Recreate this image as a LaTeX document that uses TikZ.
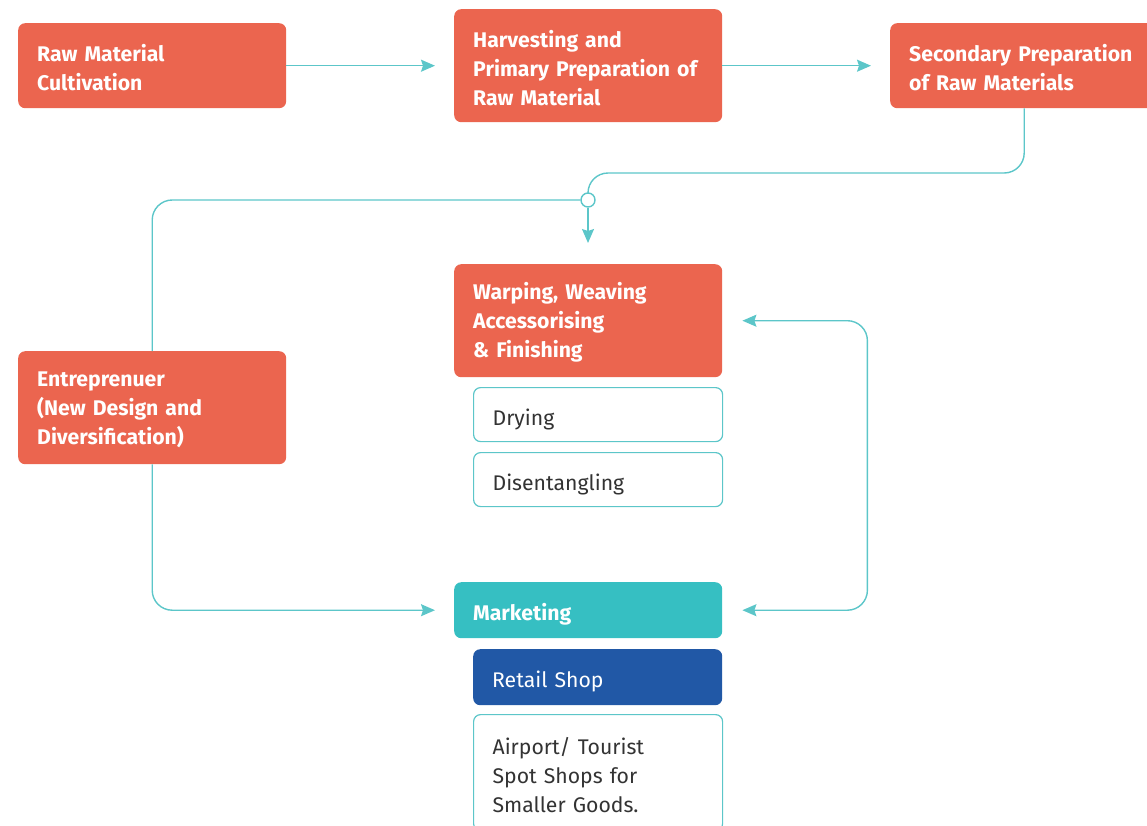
\documentclass[tikz,border=0pt]{standalone}
\usepackage{fontspec}
\setmainfont{Fira Sans}
\usetikzlibrary{arrows.meta,calc}
\definecolor{corange}{HTML}{EB654F}
\definecolor{cteal}{HTML}{36BFC2}
\definecolor{cline}{HTML}{5CC6C9}
\definecolor{cblue}{HTML}{2158A6}
\definecolor{ctext}{HTML}{333333}
\tikzset{
  lower/.style={execute at end node={\vspace*{-#1}}},
  box/.style={rectangle, rounded corners=7pt, anchor=north west, inner xsep=19pt, inner ysep=0pt,
    align=left, font=\fontsize{21.2}{29}\selectfont, lower=4pt},
  oneline/.style={lower=0pt, text height=21pt, text depth=0pt},
  mainbox/.style={box, fill=corange, text=white, font=\fontsize{21.2}{29}\selectfont\bfseries, text width=230pt, minimum width=268pt},
  subbox/.style={box, draw=cline, line width=1.2pt, fill=white, text=ctext, text width=211pt, minimum width=249pt},
  conn/.style={draw=cline, line width=1.4pt},
  arr/.style={conn, -{Stealth[length=14pt,width=12pt,inset=2pt]}},
}
\begin{document}
\begin{tikzpicture}[x=1pt,y=-1pt]
\useasboundingbox (0,0) rectangle (1147,825);
\node[mainbox, minimum height=85pt] (raw) at (18,23) {Raw Material\\Cultivation};
\node[mainbox, minimum height=113pt] (harv) at (454,9) {Harvesting and\\Primary Preparation of\\Raw Material};
\node[mainbox, minimum height=85pt] (sec) at (890,23) {Secondary Preparation\\of Raw Materials};
\node[mainbox, minimum height=113pt] (warp) at (454,264) {Warping, Weaving\\Accessorising\\\& Finishing};
\node[subbox, minimum height=54pt, oneline] (dry) at (473,387) {Drying};
\node[subbox, minimum height=54pt, oneline] (dis) at (473,452) {Disentangling};
\node[mainbox, minimum height=113pt] (ent) at (18,351) {Entreprenuer\\(New Design and\\Diversification)};
\node[mainbox, fill=cteal, minimum height=56pt, oneline] (mkt) at (454,582) {Marketing};
\node[box, fill=cblue, text=white, text width=211pt, minimum width=249pt, minimum height=56pt, oneline] (retail) at (473,649) {Retail Shop};
\node[subbox, minimum height=116pt, anchor=north west] (air) at (473,714) {Airport/ Tourist\\Spot Shops for\\Smaller Goods.};
\node[circle, draw=cline, line width=1.4pt, fill=white, minimum size=14pt, inner sep=0pt] (junc) at (588,200) {};

\draw[arr, shorten >=19pt] (raw.east) -- (raw.east -| harv.west);
\draw[arr, shorten >=19pt] (harv.east |- sec.west) -- (sec.west);
\draw[conn, rounded corners=20pt] (sec.south) -- (sec.south |- 0,173) -- (junc.north |- 0,173) -- (junc.north);
\draw[arr, shorten >=21pt] (junc.south) -- (junc.south |- warp.north);
\draw[conn, rounded corners=20pt] (ent.north) |- (junc.west);
\draw[arr, shorten >=19pt, rounded corners=20pt] (ent.south) |- (mkt.west);
\draw[conn, {Stealth[length=14pt,width=12pt,inset=2pt]}-{Stealth[length=14pt,width=12pt,inset=2pt]}, shorten <=20pt, shorten >=20pt, rounded corners=20pt] (warp.east) -- ++(145,0) |- (mkt.east);
\end{tikzpicture}
\end{document}
